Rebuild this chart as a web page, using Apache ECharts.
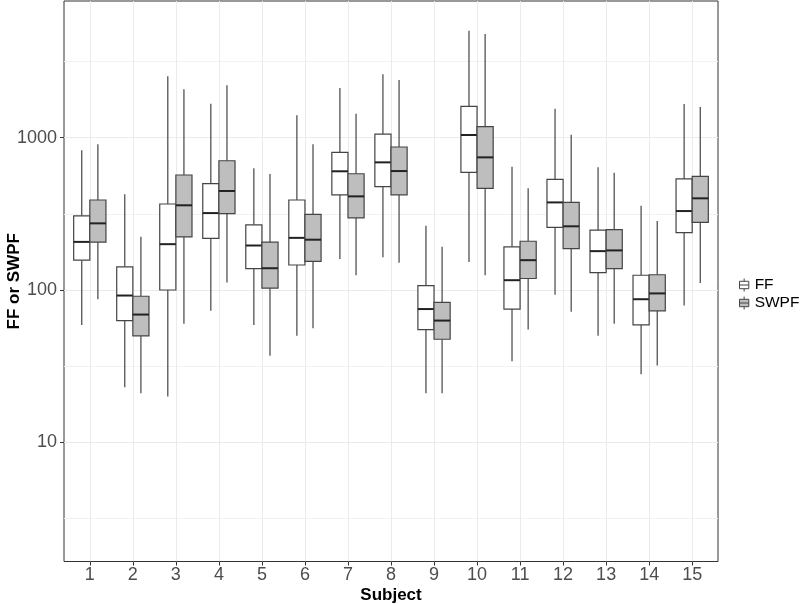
<!DOCTYPE html>
<html>
<head>
<meta charset="utf-8">
<script src="https://cdn.jsdelivr.net/npm/echarts@6/dist/echarts.min.js"></script>
<style>
  html, body { margin: 0; padding: 0; background: #fff; }
  #main { width: 800px; height: 604px; }
</style>
</head>
<body>
<div id="main"></div>
<script>
  var subjects = [1, 2, 3, 4, 5, 6, 7, 8, 9, 10, 11, 12, 13, 14, 15]

  // FF boxes: lower whisker, Q1, median, Q3, upper whisker
  var ffLow = [59, 23, 20, 73, 59, 50, 160, 164, 21, 153, 34, 93, 50, 28, 79]
  var ffQ1 = [157, 63, 100, 218, 138, 146, 421, 477, 55, 593, 75, 258, 130, 59, 238]
  var ffMed = [207, 92, 200, 320, 196, 220, 602, 689, 75, 1042, 116, 376, 180, 87, 330]
  var ffQ3 = [307, 142, 367, 499, 268, 390, 802, 1057, 107, 1607, 192, 533, 247, 125, 536]
  var ffHigh = [826, 425, 2530, 1672, 630, 1403, 2120, 2607, 264, 5045, 645, 1550, 639, 358, 1664]

  // SWPF boxes
  var swLow = [87, 21, 60, 112, 37, 56, 125, 151, 21, 125, 55, 72, 60, 32, 111]
  var swQ1 = [206, 50, 223, 317, 103, 154, 298, 422, 47.5, 465, 119, 187, 138, 73, 278]
  var swMed = [274, 69, 360, 447, 139, 214, 412, 604, 63, 743, 157, 262, 182, 95, 400]
  var swQ3 = [390, 91, 569, 706, 206, 314, 580, 869, 83, 1181, 209, 376, 249, 126, 558]
  var swHigh = [905, 224, 2080, 2208, 578, 905, 1437, 2393, 192, 4797, 465, 1046, 589, 284, 1590]

  var yTicks = [10, 100, 1000]
  var yMinor = [3.162, 31.62, 316.2, 3162]

  var font = '"Liberation Sans", Arial, sans-serif'
  var lineCol = '#444'
  var boxIcon = 'path://M5,0L5,3M0,3L10,3L10,11L0,11ZM0,7L10,7M5,11L5,14'

  function rows (low, q1, med, q3, high) {
    return subjects.map(function (s, i) {
      return [s, low[i], q1[i], med[i], q3[i], high[i]]
    })
  }

  function boxRenderer (offset, fill) {
    return function (params, api) {
      var x = api.value(0) + offset
      var hw = 0.1875
      var med = api.value(3)
      var left = api.coord([x - hw, med])[0]
      var right = api.coord([x + hw, med])[0]
      var cx = api.coord([x, med])[0]
      var yLow = api.coord([x, api.value(1)])[1]
      var yQ1 = api.coord([x, api.value(2)])[1]
      var yMed = api.coord([x, med])[1]
      var yQ3 = api.coord([x, api.value(4)])[1]
      var yHigh = api.coord([x, api.value(5)])[1]
      var ls = { stroke: lineCol, lineWidth: 1.2 }
      return {
        type: 'group',
        children: [
          { type: 'line', shape: { x1: cx, y1: yHigh, x2: cx, y2: yQ3 }, style: ls },
          { type: 'line', shape: { x1: cx, y1: yQ1, x2: cx, y2: yLow }, style: ls },
          { type: 'rect', shape: { x: left, y: yQ3, width: right - left, height: yQ1 - yQ3 },
            style: { fill: fill, stroke: lineCol, lineWidth: 1.2 } },
          { type: 'line', shape: { x1: left, y1: yMed, x2: right, y2: yMed },
            style: { stroke: '#222', lineWidth: 2 } }
        ]
      }
    }
  }

  var myChart = echarts.init(document.getElementById('main'))
  myChart.setOption({
    animation: false,
    backgroundColor: '#fff',
    grid: {
      left: 64, right: 82, top: 1, bottom: 42.5,
      containLabel: false,
      outerBoundsMode: 'none',
      show: true, borderColor: '#333', borderWidth: 1
    },
    legend: {
      orient: 'vertical',
      left: 734,
      top: 272,
      itemWidth: 11,
      itemHeight: 13,
      itemGap: 2,
      textStyle: { fontSize: 15.5, color: '#000', fontFamily: font },
      data: [
        { name: 'FF', icon: boxIcon, itemStyle: { color: '#fff', borderColor: lineCol, borderWidth: 1 } },
        { name: 'SWPF', icon: boxIcon, itemStyle: { color: '#bebebe', borderColor: lineCol, borderWidth: 1 } }
      ]
    },
    xAxis: {
      type: 'value',
      min: 0.4,
      max: 15.6,
      name: 'Subject',
      nameLocation: 'middle',
      nameGap: 25,
      nameMoveOverlap: false,
      nameTextStyle: { fontSize: 17, fontWeight: 'bold', color: '#000', fontFamily: font },
      axisLine: { show: false },
      axisTick: { customValues: subjects, length: 4, lineStyle: { color: '#333' } },
      axisLabel: { customValues: subjects, fontSize: 18, color: '#4d4d4d', margin: 5, fontFamily: font },
      splitLine: { show: true, lineStyle: { color: '#ebebeb', width: 1 } }
    },
    yAxis: [
      {
        // minor grid only
        type: 'log',
        logBase: 10,
        min: 1.65,
        max: 7900,
        position: 'left',
        axisLine: { show: false },
        axisTick: { show: false, customValues: yMinor },
        axisLabel: { show: false },
        splitLine: { show: true, lineStyle: { color: '#f2f2f2', width: 1 } }
      },
      {
        type: 'log',
        logBase: 10,
        min: 1.65,
        max: 7900,
        position: 'left',
        name: 'FF or SWPF',
        nameLocation: 'middle',
        nameGap: 41,
        nameMoveOverlap: false,
        nameTextStyle: { fontSize: 17, fontWeight: 'bold', color: '#000', fontFamily: font },
        axisLine: { show: false },
        axisTick: { customValues: yTicks, length: 4, lineStyle: { color: '#333' } },
        axisLabel: {
          customValues: yTicks, fontSize: 18, color: '#4d4d4d', margin: 7, fontFamily: font,
          formatter: function (v) { return String(Math.round(v)) }
        },
        splitLine: { show: true, lineStyle: { color: '#ebebeb', width: 1 } }
      }
    ],
    series: [
      {
        name: 'FF',
        type: 'custom',
        yAxisIndex: 1,
        encode: { x: 0, y: [1, 2, 3, 4, 5] },
        renderItem: boxRenderer(-0.1875, '#fff'),
        data: rows(ffLow, ffQ1, ffMed, ffQ3, ffHigh)
      },
      {
        name: 'SWPF',
        type: 'custom',
        yAxisIndex: 1,
        encode: { x: 0, y: [1, 2, 3, 4, 5] },
        renderItem: boxRenderer(0.1875, '#bebebe'),
        data: rows(swLow, swQ1, swMed, swQ3, swHigh)
      }
    ]
  })
</script>
</body>
</html>
